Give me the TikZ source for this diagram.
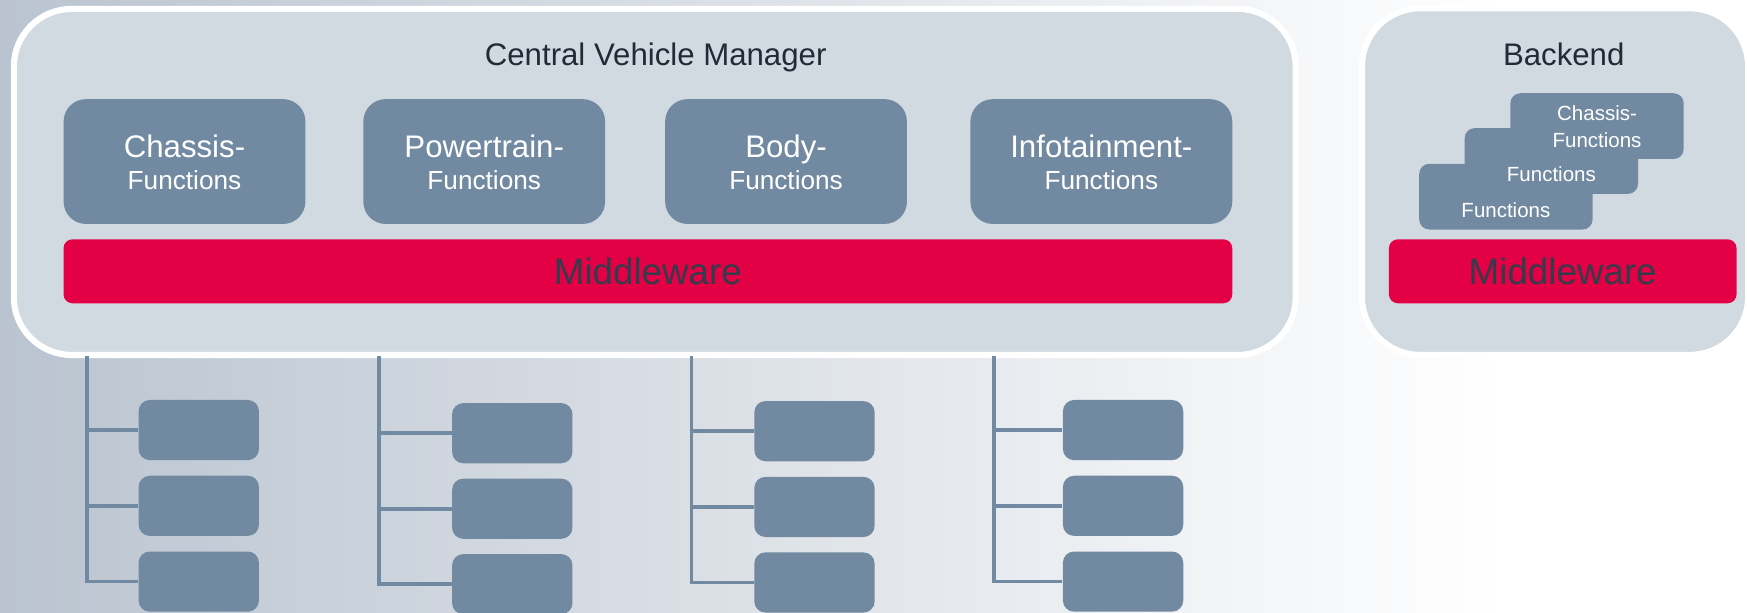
\documentclass[tikz,border=0pt]{standalone}
\usepackage{fontspec}
\setmainfont{Liberation Sans}
\definecolor{bgL}{HTML}{BAC4D0}
\definecolor{panelfill}{HTML}{D1D9E1}
\definecolor{slate}{HTML}{728AA1}
\definecolor{mwred}{HTML}{E30045}
\definecolor{mwtext}{HTML}{333C4A}
\definecolor{titletext}{HTML}{222A35}
\begin{document}
\begin{tikzpicture}[x=0.5pt,y=-0.5pt,
  panelbox/.style={draw=white, line width=2.75pt, fill=panelfill, rounded corners=26pt, inner sep=0pt},
  titlelabel/.style={text=titletext, font=\fontsize{14}{16}\selectfont, inner sep=0pt, anchor=base},
  funcbox/.style={fill=slate, rounded corners=10pt, inner sep=0pt,
    minimum width=108.5pt, minimum height=56pt},
  funcbig/.style={text=white, font=\fontsize{14}{16}\selectfont, inner sep=0pt, anchor=base},
  funcsmall/.style={text=white, font=\fontsize{11.75}{14}\selectfont, inner sep=0pt, anchor=base},
  mwbar/.style={fill=mwred, rounded corners=4pt, text=mwtext, inner sep=0pt,
    minimum height=28.7pt, font=\fontsize{16.5}{18}\selectfont},
  stackbox/.style={fill=slate, rounded corners=4.5pt, inner sep=0pt,
    minimum width=77.8pt, minimum height=29.5pt},
  stacktext/.style={text=white, font=\fontsize{9.2}{12}\selectfont, inner sep=0pt, anchor=base},
  ecu/.style={fill=slate, rounded corners=5pt, inner sep=0pt, minimum width=54pt, minimum height=27pt},
  trunk/.style={draw=slate, line width=1.7pt}
]
\useasboundingbox (0,0) rectangle (1568,550);
% background
\fill[left color=bgL, right color=white] (0,0) rectangle (1350,550);
\fill[white] (1349,0) rectangle (1568,550);

% panels
\node[panelbox, minimum width=575.3pt, minimum height=155.3pt] (cvm) at (587.7,163.3) {};
\node[panelbox, minimum width=173.3pt, minimum height=155.5pt] (backend) at (1395.7,163) {};

% titles
\node[titlelabel] (cvmtitle) at (588.5,59) {Central Vehicle Manager};
\node[titlelabel] (betitle) at (1403.5,59) {Backend};

% function boxes
\node[funcbox] (chassis) at (165.6,145) {};
\node[funcbox] (power) at (434.6,145) {};
\node[funcbox] (body) at (705.5,145) {};
\node[funcbox, minimum width=117.5pt] (info) at (988.5,145) {};
\node[funcbig] (chassisA) at (165.6,141.2) {Chassis-};
\node[funcsmall] (chassisB) at (165.6,170.5) {Functions};
\node[funcbig] (powerA) at (434.6,141.2) {Powertrain-};
\node[funcsmall] (powerB) at (434.6,170.5) {Functions};
\node[funcbig] (bodyA) at (705.5,141.2) {Body-};
\node[funcsmall] (bodyB) at (705.5,170.5) {Functions};
\node[funcbig] (infoA) at (988.5,141.2) {Infotainment-};
\node[funcsmall] (infoB) at (988.5,170.5) {Functions};

% middleware
\node[mwbar, minimum width=524.5pt] (mw) at (581.5,243.5) {Middleware};
\node[mwbar, minimum width=156pt] (bemw) at (1402.6,243.5) {Middleware};

% backend stacked boxes
\node[stackbox] (sb1) at (1351.6,176.5) {};
\node[stackbox] (sb2) at (1392.4,144.5) {};
\node[stackbox] (sb3) at (1433.4,113.2) {};
\node[stacktext] (sb3a) at (1433.4,108) {Chassis-};
\node[stacktext] (sb3b) at (1433.4,132) {Functions};
\node[stacktext] (sb2t) at (1392.4,163) {Functions};
\node[stacktext] (sb1t) at (1351.6,195.4) {Functions};

% trees of control units
\coordinate (t1) at (78,319.5);
\coordinate (t2) at (340,319.5);
\coordinate (t3) at (620.6,319.5);
\coordinate (t4) at (892,319.5);

\node[ecu] (e11) at (178.4,386) {};
\node[ecu] (e12) at (178.4,454) {};
\node[ecu] (e13) at (178.4,522) {};
\node[ecu] (e21) at (459.8,388.8) {};
\node[ecu] (e22) at (459.8,456.6) {};
\node[ecu] (e23) at (459.8,524.3) {};
\node[ecu] (e31) at (731,387) {};
\node[ecu] (e32) at (731,455) {};
\node[ecu] (e33) at (731,522.8) {};
\node[ecu] (e41) at (1008,386) {};
\node[ecu] (e42) at (1008,454) {};
\node[ecu] (e43) at (1008,522) {};

\foreach \t in {1,2,3,4}{
  \draw[trunk] (t\t) |- (e\t3.west);
  \draw[trunk] (t\t |- e\t1.west) -- (e\t1.west);
  \draw[trunk] (t\t |- e\t2.west) -- (e\t2.west);
}
\end{tikzpicture}
\end{document}
